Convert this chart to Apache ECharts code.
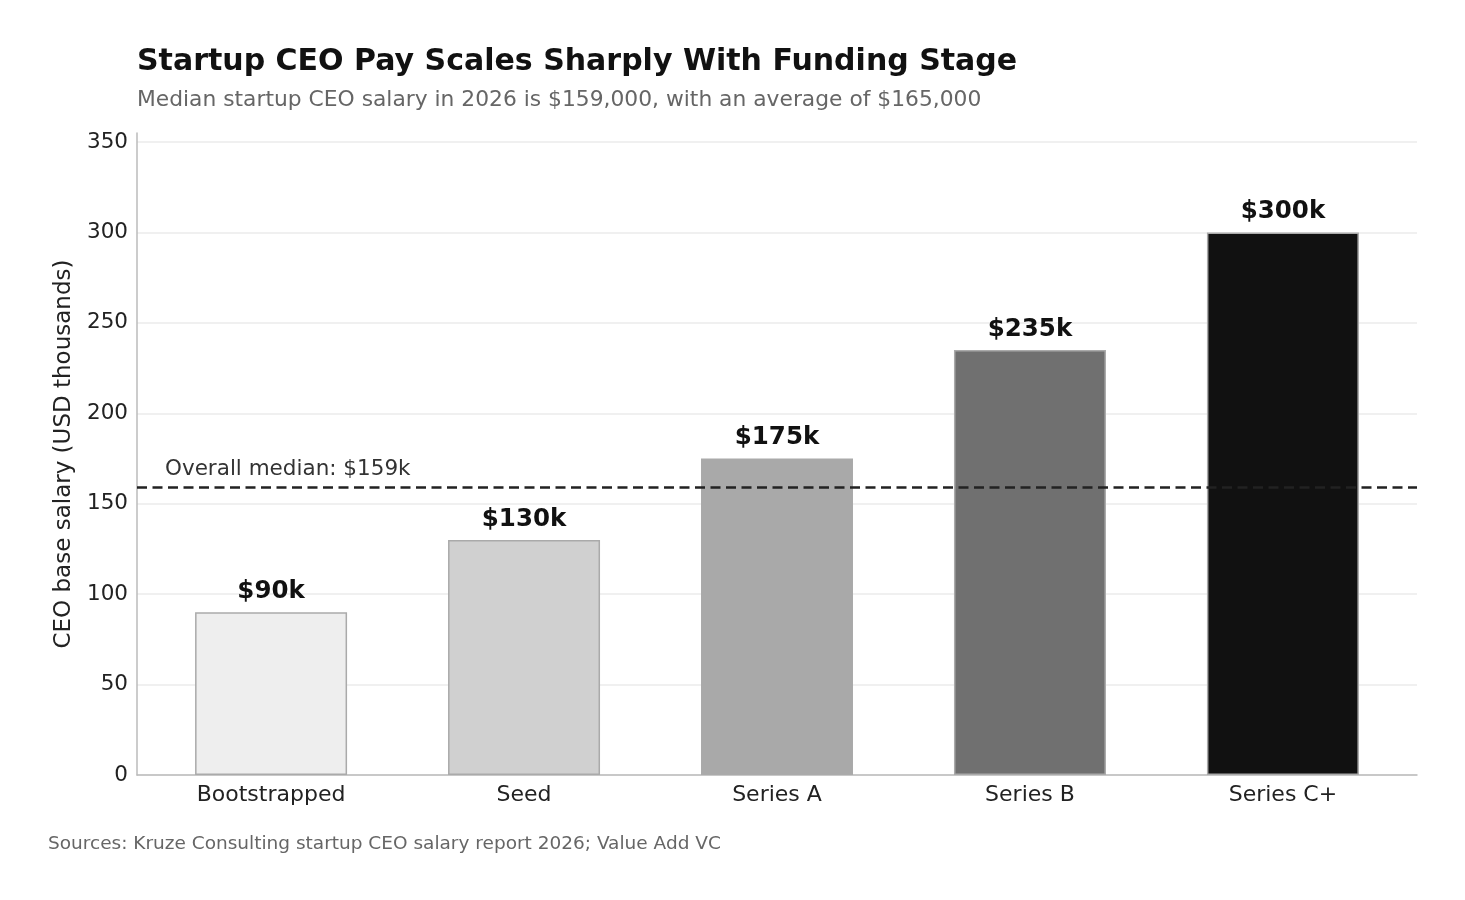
<!DOCTYPE html>
<html>
<head>
<meta charset="utf-8">
<script src="https://cdn.jsdelivr.net/npm/echarts@6/dist/echarts.min.js"></script>
<style>
  html, body { margin: 0; padding: 0; background: #fff; }
  #chart { width: 1465px; height: 900px; }
</style>
</head>
<body>
<div id="chart"></div>
<script>
// funding stages and median CEO base salary (USD thousands)
const stages = ['Bootstrapped', 'Seed', 'Series A', 'Series B', 'Series C+'];
const salaries = [90, 130, 175, 235, 300];
const barColors = ['#eeeeee', '#d0d0d0', '#a9a9a9', '#707070', '#111111'];
const overallMedian = 159;

const font = 'DejaVu Sans';
const chart = echarts.init(document.getElementById('chart'));

const options = {
  animation: false,
  textStyle: { fontFamily: font },
  title: {
    text: 'Startup CEO Pay Scales Sharply With Funding Stage',
    subtext: 'Median startup CEO salary in 2026 is $159,000, with an average of $165,000',
    left: 132,
    top: 42,
    itemGap: 12,
    textStyle: { fontFamily: font, fontSize: 30, fontWeight: 'bold', color: '#111' },
    subtextStyle: { fontFamily: font, fontSize: 21.8, color: '#666' }
  },
  grid: { left: 137, right: 48, top: 133, bottom: 125 },
  // numeric x so the side padding matches the reference (half a gap each side)
  xAxis: {
    type: 'value',
    min: -0.53,
    max: 4.53,
    axisLine: { show: true, onZero: false, lineStyle: { color: '#bbbbbb', width: 1.5 } },
    axisTick: { show: false },
    splitLine: { show: false },
    axisLabel: {
      customValues: [0, 1, 2, 3, 4],
      fontSize: 22,
      color: '#222',
      margin: 9,
      formatter: (v) => stages[Math.round(v)]
    }
  },
  yAxis: {
    type: 'value',
    min: 0,
    max: 355,
    interval: 50,
    name: 'CEO base salary (USD thousands)',
    nameLocation: 'middle',
    nameGap: 61,
    nameTextStyle: { fontSize: 23, color: '#222' },
    axisLine: { show: true, onZero: false, lineStyle: { color: '#bbbbbb', width: 1.5 } },
    axisTick: { show: false },
    axisLabel: { fontSize: 21.5, color: '#222', margin: 9, showMaxLabel: false },
    splitLine: { show: true, showMaxLine: false, lineStyle: { color: '#ebebeb', width: 1.5 } }
  },
  series: [
    {
      type: 'bar',
      data: salaries.map((v, i) => ({
        value: [i, v],
        itemStyle: { color: barColors[i] }
      })),
      barWidth: 152,
      itemStyle: { borderColor: '#aaaaaa', borderWidth: 1.5 },
      label: {
        show: true,
        position: 'top',
        distance: 8,
        fontSize: 24.5,
        fontWeight: 'bold',
        color: '#111',
        formatter: (p) => '$' + p.value[1] + 'k'
      },
      markLine: {
        symbol: 'none',
        silent: true,
        lineStyle: { type: [10, 5.5], color: '#222', width: 2.6 },
        label: {
          position: 'insideStartTop',
          distance: [28, 7],
          fontSize: 21.5,
          color: '#333',
          formatter: 'Overall median: $' + overallMedian + 'k'
        },
        data: [{ yAxis: overallMedian }]
      }
    }
  ],
  graphic: [
    {
      type: 'text',
      left: 48,
      top: 835,
      style: {
        text: 'Sources: Kruze Consulting startup CEO salary report 2026; Value Add VC',
        fontFamily: font,
        fontSize: 18.5,
        fill: '#666'
      }
    }
  ]
};

chart.setOption(options);
</script>
</body>
</html>
